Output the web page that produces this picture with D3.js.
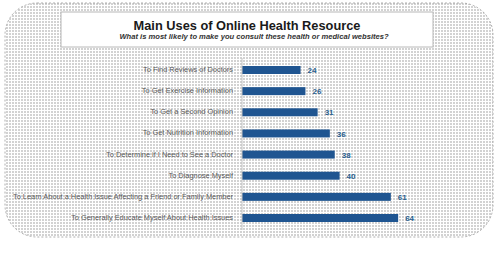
<!DOCTYPE html>
<html>
<head>
<meta charset="utf-8">
<script src="https://cdn.jsdelivr.net/npm/d3@7"></script>
<style>
  html, body { margin: 0; padding: 0; background: #fff; }
  svg { display: block; }
</style>
</head>
<body>
<div id="chart"></div>
<script>
const title = "Main Uses of Online Health Resource";
const subtitle = "What is most likely to make you consult these health or medical websites?";

const categories = [
  "To Find Reviews of Doctors",
  "To Get Exercise Information",
  "To Get a Second Opinion",
  "To Get Nutrition Information",
  "To Determine if I Need to See a Doctor",
  "To Diagnose Myself",
  "To Learn About a Health Issue Affecting a Friend or Family Member",
  "To Generally Educate Myself About Health Issues"
];
const values = [24, 26, 31, 36, 38, 40, 61, 64];

const width = 498, height = 253;

const svg = d3.select("#chart")
  .append("svg")
    .attr("width", width)
    .attr("height", height);

// dotted backdrop
const pattern = svg.append("defs")
  .append("pattern")
    .attr("id", "dots")
    .attr("width", 3)
    .attr("height", 3)
    .attr("patternUnits", "userSpaceOnUse");
pattern.append("rect")
    .attr("width", 3).attr("height", 3).attr("fill", "#fff");
pattern.append("rect")
    .attr("width", 2).attr("height", 2).attr("fill", "#d2d2d2");

svg.append("rect")
    .attr("x", 5)
    .attr("y", 3)
    .attr("width", 488)
    .attr("height", 234)
    .attr("rx", 32)
    .attr("ry", 32)
    .attr("fill", "url(#dots)")
    .attr("stroke", "#9a9a9a")
    .attr("stroke-width", 0.8)
    .attr("stroke-dasharray", "2 2");

// title box
svg.append("rect")
    .attr("x", 61)
    .attr("y", 12)
    .attr("width", 372)
    .attr("height", 35)
    .attr("fill", "#fff")
    .attr("stroke", "#b8b8b8")
    .attr("stroke-width", 1);

svg.append("text")
    .attr("x", 247)
    .attr("y", 30)
    .attr("text-anchor", "middle")
    .attr("font-family", "Liberation Sans, Arial, sans-serif")
    .attr("font-weight", "bold")
    .attr("font-size", 12.8)
    .attr("fill", "#1a1a1a")
    .text(title);

svg.append("text")
    .attr("x", 254)
    .attr("y", 39)
    .attr("text-anchor", "middle")
    .attr("font-family", "Liberation Sans, Arial, sans-serif")
    .attr("font-weight", "bold")
    .attr("font-style", "italic")
    .attr("font-size", 7.6)
    .attr("fill", "#333")
    .text(subtitle);

// scales
const x = d3.scaleLinear()
  .domain([0, 70])
  .range([242, 242 + 70 * 2.44]);

const y = d3.scalePoint()
  .domain(categories)
  .range([70, 218]);

const barH = 8;
const data = categories.map((c, i) => ({ label: c, value: values[i] }));

// bars
svg.append("g")
  .selectAll("rect")
  .data(data)
  .join("rect")
    .attr("x", x(0))
    .attr("y", d => y(d.label) - barH / 2)
    .attr("width", d => x(d.value) - x(0))
    .attr("height", barH)
    .attr("fill", "#1f5591");

// axis line
svg.append("line")
    .attr("x1", x(0))
    .attr("x2", x(0))
    .attr("y1", 58)
    .attr("y2", 230)
    .attr("stroke", "#c4c4c4")
    .attr("stroke-width", 1);

// category labels
svg.append("g")
    .attr("font-family", "Liberation Sans, Arial, sans-serif")
    .attr("font-size", 7.4)
    .attr("fill", "#595959")
    .attr("text-anchor", "end")
    .attr("dominant-baseline", "middle")
  .selectAll("text")
  .data(data)
  .join("text")
    .attr("x", 233)
    .attr("y", d => y(d.label))
    .text(d => d.label);

// value labels
svg.append("g")
    .attr("font-family", "Liberation Sans, Arial, sans-serif")
    .attr("font-size", 8)
    .attr("font-weight", "bold")
    .attr("fill", "#2a5f8f")
    .attr("dominant-baseline", "middle")
  .selectAll("text")
  .data(data)
  .join("text")
    .attr("x", d => x(d.value) + 7)
    .attr("y", d => y(d.label) + 1)
    .text(d => d.value);
</script>
</body>
</html>
